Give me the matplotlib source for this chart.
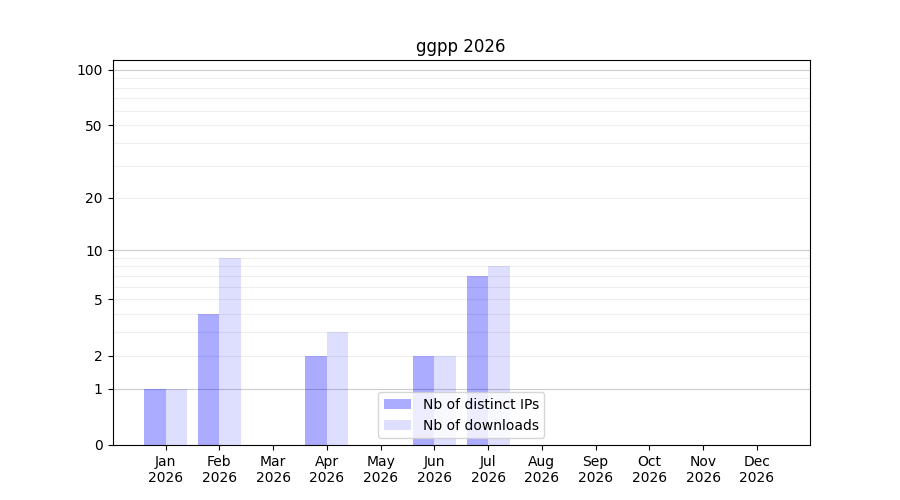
import numpy as np
import matplotlib
matplotlib.use("Agg")
import matplotlib.pyplot as plt

## Data
months = ["Jan", "Feb", "Mar", "Apr", "May", "Jun",
          "Jul", "Aug", "Sep", "Oct", "Nov", "Dec"]
year = 2026
distinct_ips = [1, 4, 0, 2, 0, 2, 7, 0, 0, 0, 0, 0]
downloads = [1, 9, 0, 3, 0, 2, 8, 0, 0, 0, 0, 0]
yticks = [0, 1, 2, 5, 10, 20, 50, 100]
grid_major = [1, 10, 100]
grid_minor = [2, 3, 4, 5, 6, 7, 8, 9, 20, 30, 40, 50, 60, 70, 80, 90]

## Functions
def forward(y):
    return np.log10(1 + np.asarray(y, dtype=float))

def inverse(y):
    return 10 ** np.asarray(y, dtype=float) - 1

## Plot
fig, ax = plt.subplots(figsize=(9, 5), dpi=100)
x = np.arange(1, len(months) + 1)
ax.set_yscale("function", functions=(forward, inverse))

for v in grid_minor:
    ax.axhline(v, color="#eeeeee", linewidth=0.8, zorder=0)
for v in grid_major:
    ax.axhline(v, color="#cccccc", linewidth=0.8, zorder=0)

ax.bar(x - 0.2, distinct_ips, width=0.4, color="blue", alpha=0.33,
       label="Nb of distinct IPs", zorder=2)
ax.bar(x + 0.2, downloads, width=0.4, color="blue", alpha=0.13,
       label="Nb of downloads", zorder=2)

ax.set_xticks(x)
ax.set_xticklabels([f"{m}\n{year}" for m in months])
ax.set_yticks(yticks)
ax.set_yticklabels([str(v) for v in yticks])
ax.yaxis.set_minor_locator(matplotlib.ticker.NullLocator())
ax.set_ylim(0, 113)
ax.set_title(f"ggpp {year}")
ax.legend(loc="lower center")

fig.savefig("out.png")
